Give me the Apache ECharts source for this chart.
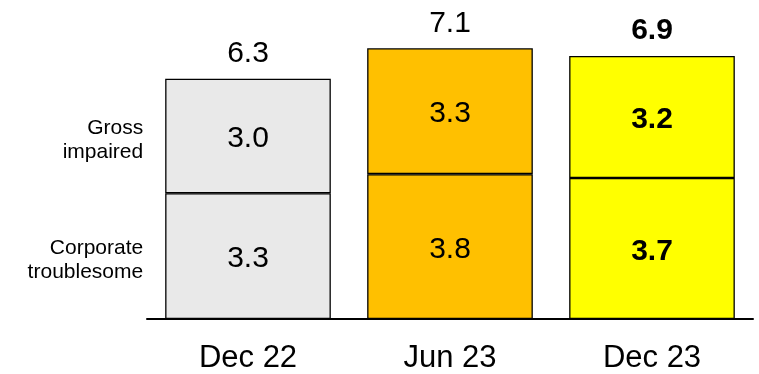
<!DOCTYPE html>
<html><head><meta charset="utf-8">
<script src="https://cdn.jsdelivr.net/npm/echarts@6/dist/echarts.min.js"></script>
<style>html,body{margin:0;padding:0;background:#fff}#c{width:759px;height:374px}</style>
</head><body><div id="c"></div>
<script>
const categories = ['Dec 22', 'Jun 23', 'Dec 23'];
const corporateTroublesome = [3.3, 3.8, 3.7];
const grossImpaired = [3.0, 3.3, 3.2];
const totals = [6.3, 7.1, 6.9];
const seriesNames = ['Corporate\ntroublesome', 'Gross\nimpaired'];
const barColors = ['#E9E9E9', '#FFC000', '#FFFF00'];
const boldIndex = 2;

const FONT = '"Liberation Sans", Arial, sans-serif';

function items(vals) {
  return vals.map((v, i) => ({
    value: v,
    itemStyle: { color: barColors[i] },
    label: { fontWeight: i === boldIndex ? 'bold' : 'normal' }
  }));
}
const common = {
  type: 'bar', stack: 'main', barCategoryGap: '18%',
  itemStyle: { borderColor: '#000', borderWidth: 1.3 },
  label: { show: true, position: 'inside', offset: [0, 3], fontSize: 30, color: '#000', fontFamily: FONT, formatter: p => p.value.toFixed(1) },
  emphasis: { disabled: true }, animation: false, z: 3
};
function sideItems(vals) {
  return vals.map((v, i) => i === 0 ? v : null);
}
const sideCommon = {
  type: 'bar', stack: 'side', barGap: '-100%', barCategoryGap: '18%',
  itemStyle: { color: 'rgba(0,0,0,0)' },
  label: { show: true, position: 'left', distance: 22, offset: [0, 4], fontSize: 21, lineHeight: 24, align: 'right', color: '#000', fontFamily: FONT, formatter: p => p.seriesName },
  emphasis: { disabled: true }, animation: false, silent: true, z: 1
};

const option = {
  animation: false,
  grid: { left: 147, right: 6, top: 14, bottom: 54 },
  xAxis: {
    type: 'category', data: categories,
    axisLine: { lineStyle: { color: '#000', width: 2 } },
    axisTick: { show: false },
    axisLabel: { fontSize: 31, color: '#000', fontFamily: FONT, margin: 24 }
  },
  yAxis: { type: 'value', min: 0, max: 8, show: false, splitLine: { show: false } },
  series: [
    Object.assign({}, common, { name: seriesNames[0], data: items(corporateTroublesome) }),
    Object.assign({}, common, { name: seriesNames[1], data: items(grossImpaired) }),
    Object.assign({}, sideCommon, { name: seriesNames[0], data: sideItems(corporateTroublesome) }),
    Object.assign({}, sideCommon, { name: seriesNames[1], data: sideItems(grossImpaired) }),
    {
      type: 'bar', name: 'Total', barGap: '-100%', barCategoryGap: '18%',
      data: totals.map((v, i) => ({ value: v, label: { fontWeight: i === boldIndex ? 'bold' : 'normal' } })),
      itemStyle: { color: 'rgba(0,0,0,0)' },
      label: { show: true, position: 'top', distance: 10, fontSize: 30, color: '#000', fontFamily: FONT, formatter: p => p.value.toFixed(1) },
      silent: true, z: 0
    }
  ]
};
echarts.init(document.getElementById('c')).setOption(option);
</script></body></html>
